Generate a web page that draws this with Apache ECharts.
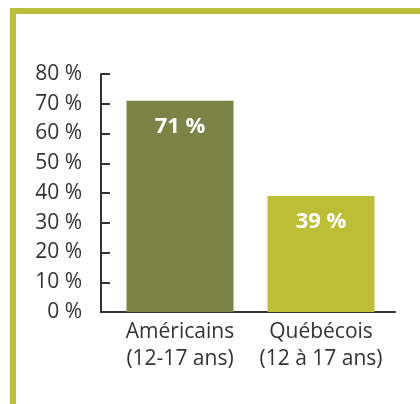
<!DOCTYPE html>
<html>
<head>
<meta charset="utf-8">
<script src="https://cdn.jsdelivr.net/npm/echarts@6/dist/echarts.min.js"></script>
<style>
  html, body { margin: 0; padding: 0; background: #fff; }
  #frame {
    position: absolute; left: 10px; top: 8px; width: 410px; height: 396px;
    border-top: 6px solid #bdc03a; border-left: 6px solid #bdc03a;
    box-sizing: border-box;
  }
  #chart { position: absolute; left: 0; top: 0; width: 420px; height: 404px; }
</style>
</head>
<body>
<div id="frame"></div>
<div id="chart"></div>
<script>
// catégories et valeurs
var categories = ['Américains\n(12-17 ans)', 'Québécois\n(12 à 17 ans)'];
var values = [71, 39];
var barColors = ['#7c8347', '#bcbe35'];

var myChart = echarts.init(document.getElementById('chart'));
var font = 'Open Sans';

var option = {
    animation: false,
    // grid 0 : axes ; grid 1 : barres (un peu décalées comme l'original)
    grid: [
        { left: 101, right: 25, top: 74, bottom: 92 },
        { left: 109.5, right: 28.5, top: 74, bottom: 92 }
    ],
    xAxis: [{
        type: 'category',
        gridIndex: 0,
        data: categories,
        axisLine: { lineStyle: { color: '#333', width: 2 } },
        axisTick: { show: false },
        axisLabel: { show: false }
    }, {
        type: 'category',
        gridIndex: 1,
        data: categories,
        axisLine: { show: false },
        axisTick: { show: false },
        axisLabel: {
            color: '#333',
            fontFamily: font,
            fontSize: 21,
            lineHeight: 27,
            margin: 7,
            interval: 0
        }
    }],
    yAxis: [{
        type: 'value',
        gridIndex: 0,
        min: 0,
        max: 80,
        interval: 10,
        axisLine: { show: true, lineStyle: { color: '#333', width: 2 } },
        axisTick: { show: true, inside: true, length: 9, lineStyle: { color: '#333', width: 2 } },
        splitLine: { show: false },
        axisLabel: {
            formatter: '{value} %',
            color: '#333',
            fontFamily: font,
            fontSize: 21,
            margin: 19
        }
    }, {
        type: 'value',
        gridIndex: 1,
        min: 0,
        max: 80,
        interval: 10,
        show: false
    }],
    series: [{
        type: 'bar',
        xAxisIndex: 1,
        yAxisIndex: 1,
        barWidth: 107,
        data: values.map(function (v, i) {
            return { value: v, itemStyle: { color: barColors[i] } };
        }),
        label: {
            show: true,
            position: 'insideTop',
            distance: 15,
            formatter: '{c} %',
            color: '#fff',
            fontFamily: font,
            fontWeight: 'bold',
            fontSize: 22
        }
    }]
};
myChart.setOption(option);
</script>
</body>
</html>
